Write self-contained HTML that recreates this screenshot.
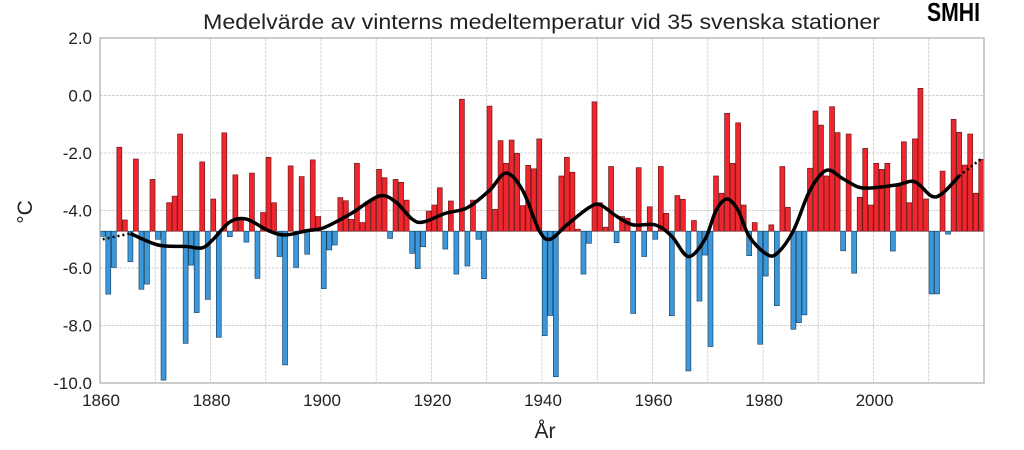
<!DOCTYPE html>
<html><head><meta charset="utf-8"><style>
body{margin:0;background:#fff;width:1024px;height:445px;overflow:hidden;font-family:"Liberation Sans",sans-serif}
</style></head><body>
<svg id="chart" width="1024" height="445" xmlns="http://www.w3.org/2000/svg">
<text x="203" y="29" textLength="677" lengthAdjust="spacingAndGlyphs" font-size="21" fill="#222">Medelvärde av vinterns medeltemperatur vid 35 svenska stationer</text>
<text x="927" y="21" textLength="53" lengthAdjust="spacingAndGlyphs" font-size="26" font-weight="bold" fill="#000">SMHI</text>
<g id="grid"></g><g id="bars"></g><g id="line"></g><g id="axes"></g>
<text x="32" y="212" text-anchor="middle" font-size="21" fill="#222" transform="rotate(-90 32 212)">°C</text>
<text x="545" y="438" text-anchor="middle" font-size="21" fill="#222">År</text>
</svg>
<script>
const years=[];for(let y=1860;y<=2019;y++)years.push(y);
const temps=[-4.9,-6.91,-5.98,-1.8,-4.33,-5.78,-2.21,-6.74,-6.56,-2.92,
-5.0,-9.9,-3.73,-3.5,-1.34,-8.62,-5.9,-7.55,-2.31,-7.09,
-3.6,-8.41,-1.3,-4.91,-2.76,-4.33,-5.1,-2.7,-6.36,-4.07,
-2.15,-3.73,-5.6,-9.37,-2.45,-5.98,-2.82,-5.52,-2.24,-4.21,
-6.72,-5.37,-5.2,-3.55,-3.66,-4.31,-2.36,-4.42,-3.69,-3.64,
-2.57,-2.86,-4.97,-2.92,-3.02,-3.64,-5.49,-6.02,-5.26,-4.02,
-3.81,-3.21,-5.34,-3.67,-6.21,-0.13,-5.93,-3.64,-5.0,-6.37,
-0.37,-3.96,-1.57,-2.36,-1.55,-2.01,-3.83,-2.43,-2.55,-1.51,
-8.35,-7.65,-9.78,-2.8,-2.15,-2.67,-4.65,-6.21,-5.14,-0.22,
-3.73,-4.58,-2.47,-5.12,-4.21,-4.27,-7.58,-2.51,-5.6,-3.87,
-5.0,-2.47,-4.1,-7.66,-3.48,-3.61,-9.58,-4.35,-7.15,-5.55,
-8.73,-2.8,-3.4,-0.62,-2.36,-0.95,-3.81,-5.57,-4.42,-8.65,
-6.28,-4.5,-7.31,-2.47,-3.89,-8.13,-7.9,-7.63,-2.53,-0.54,
-1.03,-2.8,-0.39,-1.29,-5.4,-1.34,-6.18,-3.54,-1.84,-3.81,
-2.36,-2.57,-2.36,-5.41,-3.17,-1.61,-3.73,-1.51,0.25,-3.6,
-6.9,-6.9,-2.63,-4.82,-0.83,-1.28,-2.42,-1.34,-3.4,-2.22];
const smoothYears=[1860,1865,1870,1875,1878,1880,1883,1886,1890,1893,1897,1900,1905,1910,1913,1916,1918,1922,1926,1930,1933,1936,1939,1941,1944,1948,1950,1953,1956,1960,1963,1966,1969,1971,1973,1975,1977,1980,1982,1985,1988,1991,1994,1997,2000,2004,2007,2010,2012,2015,2017,2019];
const smoothVals=[-5.0,-4.8,-5.2,-5.25,-5.3,-5.0,-4.4,-4.3,-4.7,-4.85,-4.7,-4.6,-4.1,-3.5,-3.7,-4.3,-4.4,-4.1,-3.9,-3.3,-2.7,-3.3,-4.7,-5.0,-4.5,-3.9,-3.8,-4.2,-4.5,-4.5,-4.9,-5.6,-5.0,-4.0,-3.6,-4.0,-4.9,-5.5,-5.5,-4.7,-3.3,-2.6,-2.9,-3.2,-3.2,-3.1,-3.0,-3.5,-3.4,-2.8,-2.5,-2.2];
const yTicks=[2,0,-2,-4,-6,-8,-10];
const xTicks=[1860,1880,1900,1920,1940,1960,1980,2000];
const baseline=-4.72;
const X0=100,X1=984,Y0=38,Y1=383;
const xs=y=>X0+(y-1860)/160*(X1-X0);
const ys=v=>Y0+(2-v)/12*(Y1-Y0);
const NS='http://www.w3.org/2000/svg';
function mk(t,a,p){const e=document.createElementNS(NS,t);for(const k in a)e.setAttribute(k,a[k]);p.appendChild(e);return e;}
const grid=document.getElementById('grid');
for(let v=2;v>=-10;v-=2){const l=mk('line',{x1:X0,x2:X1,y1:ys(v),y2:ys(v),stroke:'#d4d4d4','stroke-width':1,'stroke-dasharray':'3,1'},grid);

}
for(let y=1870;y<2020;y+=10){const l=mk('line',{x1:xs(y),x2:xs(y),y1:Y0,y2:Y1,stroke:'#d4d4d4','stroke-width':1,'stroke-dasharray':'3,1'},grid);

}
const bars=document.getElementById('bars');
const bw=(X1-X0)/160;
years.forEach((y,i)=>{const v=temps[i];const a=ys(v),b=ys(baseline);
const r=mk('rect',{x:xs(y)+0.3,y:Math.min(a,b),width:bw-0.6,height:Math.max(0.5,Math.abs(a-b)),fill:v>baseline?'#f0262e':'#3d97db',stroke:v>baseline?'#6a1a1a':'#1d4a6a','stroke-width':0.7},bars);

});
const lg=document.getElementById('line');
function pathFor(px,py){let d='M'+px[0]+','+py[0];for(let i=0;i<px.length-1;i++){const p0=i?i-1:i,p3=i+2<px.length?i+2:i+1;
const c1x=px[i]+(px[i+1]-px[p0])/6,c1y=py[i]+(py[i+1]-py[p0])/6,c2x=px[i+1]-(px[p3]-px[i])/6,c2y=py[i+1]-(py[p3]-py[i])/6;
d+=`C${c1x},${c1y} ${c2x},${c2y} ${px[i+1]},${py[i+1]}`;}return d;}
const px=smoothYears.map(y=>xs(y+0.5)),py=smoothVals.map(ys);
const iB=smoothYears.indexOf(2015);
const main=mk('path',{d:pathFor(px.slice(1,iB+1),py.slice(1,iB+1)),fill:'none',stroke:'#000','stroke-width':3.5},lg);


const d1=mk('path',{d:pathFor(px.slice(0,2),py.slice(0,2)),fill:'none',stroke:'#000','stroke-width':2.5,'stroke-dasharray':'2,3'},lg);


const d2=mk('path',{d:pathFor(px.slice(iB),py.slice(iB)),fill:'none',stroke:'#000','stroke-width':2.5,'stroke-dasharray':'2,3'},lg);


const ax=document.getElementById('axes');
const fr=mk('rect',{x:X0,y:Y0,width:X1-X0,height:Y1-Y0,fill:'none',stroke:'#aaa','stroke-width':1.2},ax);


yTicks.forEach(v=>{const t=mk('text',{x:92,y:ys(v)+6,'text-anchor':'end','font-size':17,fill:'#222'},ax);t.textContent=v.toFixed(1);

});
xTicks.forEach(y=>{const t=mk('text',{x:xs(y)+1,y:406,'text-anchor':'middle','font-size':17,fill:'#222'},ax);t.textContent=y;

});
</script>
</body></html>
